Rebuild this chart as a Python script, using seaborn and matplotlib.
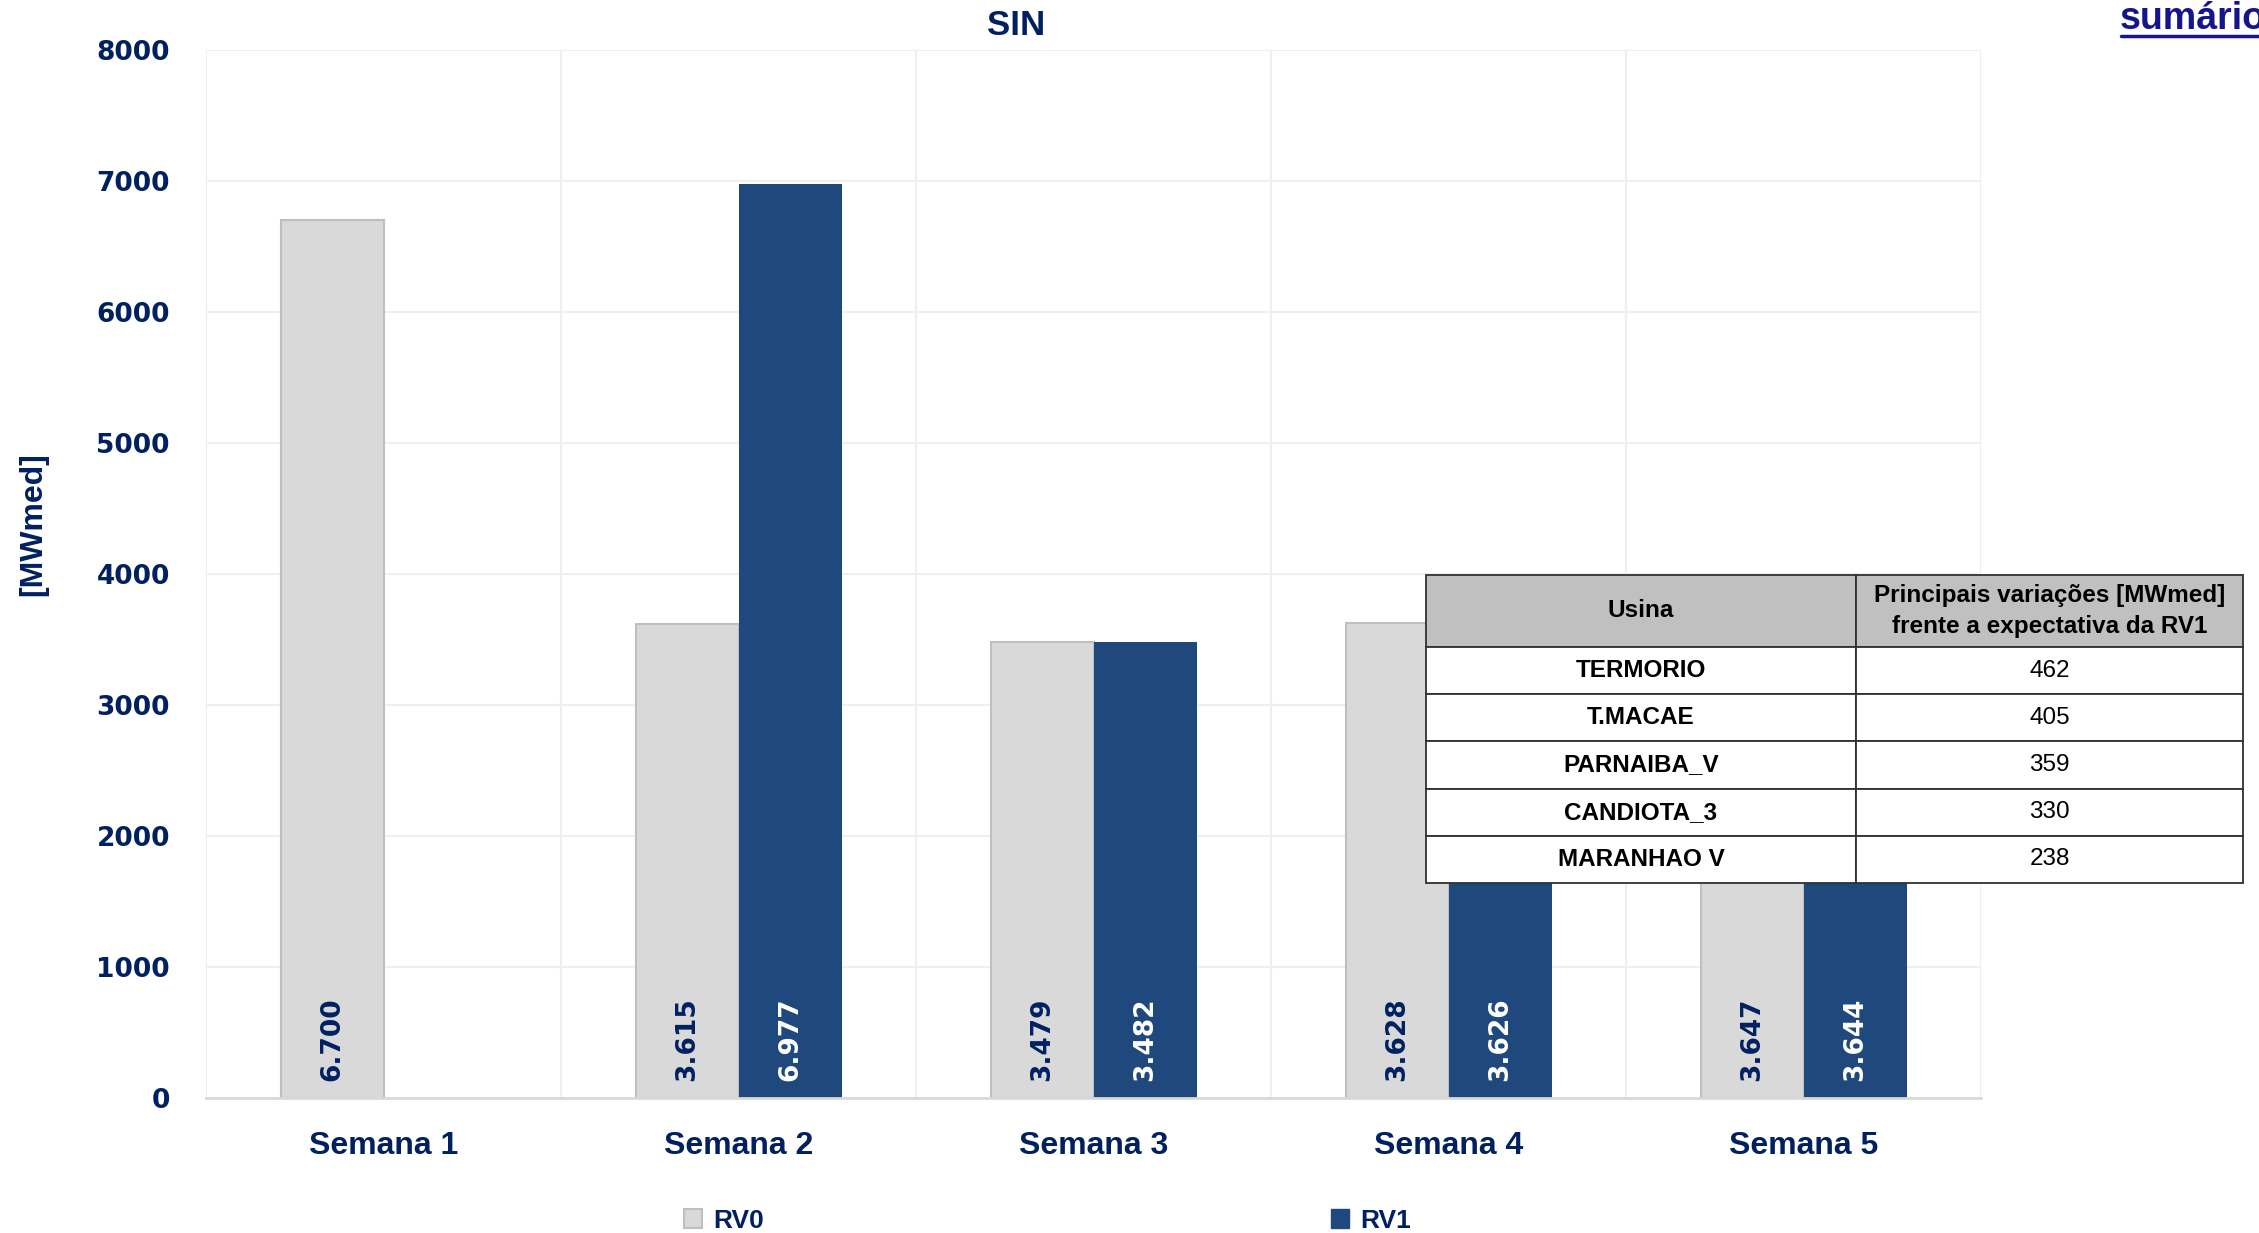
import numpy as np
import pandas as pd
import matplotlib
matplotlib.use("Agg")
import matplotlib.pyplot as plt
import seaborn as sns
from matplotlib.lines import Line2D
from matplotlib.patches import Patch

# dados do gráfico
semanas = ["Semana 1", "Semana 2", "Semana 3", "Semana 4", "Semana 5"]
rv0 = [6700, 3615, 3479, 3628, 3647]
rv1 = [np.nan, 6977, 3482, 3626, 3644]
yticks = [0, 1000, 2000, 3000, 4000, 5000, 6000, 7000, 8000]

# tabela de variações
usinas = ["TERMORIO", "T.MACAE", "PARNAIBA_V", "CANDIOTA_3", "MARANHAO V"]
variacoes = [462, 405, 359, 330, 238]
cab_tabela = ["Usina", "Principais variações [MWmed]\nfrente a expectativa da RV1"]

NAVY = "#002060"
GRAY = "#D9D9D9"
BLUE = "#1F497D"
NARROW = ["Liberation Sans", "DejaVu Sans"]

sns.set_theme(style="white")
plt.rcParams["font.family"] = ["DejaVu Sans"]

df = pd.DataFrame({
    "semana": semanas * 2,
    "serie": ["RV0"] * 5 + ["RV1"] * 5,
    "valor": rv0 + rv1,
})

fig = plt.figure(figsize=(22.59, 12.33), dpi=100)
ax = fig.add_axes([0.0912, 0.1095, 0.7858, 0.8499])

sns.barplot(data=df, x="semana", y="valor", hue="serie", order=semanas,
            hue_order=["RV0", "RV1"], palette=[GRAY, BLUE], width=0.58,
            saturation=1, errorbar=None, legend=False, ax=ax)

# borda cinza nas barras RV0
for p in ax.containers[0]:
    p.set_edgecolor("#BFBFBF")
    p.set_linewidth(1.5)
for p in ax.containers[1]:
    p.set_edgecolor(BLUE)
    p.set_linewidth(0)

# rótulos de valor na base das barras
for cont, cor in zip(ax.containers, [NAVY, "white"]):
    for p in cont:
        h = p.get_height()
        if np.isnan(h) or h == 0:
            continue
        txt = f"{h:,.0f}".replace(",", ".")
        ax.annotate(txt, (p.get_x() + p.get_width() / 2, 0),
                    xytext=(0, 12), textcoords="offset points",
                    rotation=90, ha="center", va="bottom",
                    fontsize=19, fontweight="bold", color=cor)

ax.set_ylim(0, 8000)
ax.set_xlim(-0.5, 4.5)
ax.set_yticks(yticks)
ax.set_yticklabels([str(v) for v in yticks], fontsize=19, fontweight="bold", color=NAVY)
ax.set_xticks(range(len(semanas)))
ax.set_xticklabels(semanas, fontsize=23, fontweight="bold", color=NAVY, family=NARROW)
ax.set_xticks(np.arange(-0.5, 5, 1), minor=True)
ax.tick_params(axis="x", which="both", length=0, pad=24)
ax.tick_params(axis="y", length=0, pad=26)
ax.set_xlabel("")
ax.set_ylabel("[MWmed]", fontsize=23, fontweight="bold", color=NAVY, family=NARROW)
ax.yaxis.set_label_coords(-0.089, 0.548)
ax.yaxis.grid(True, color="#EFEFEF", linewidth=1.5)
ax.xaxis.grid(True, which="minor", color="#EFEFEF", linewidth=1.5)
ax.xaxis.grid(False, which="major")
ax.set_axisbelow(True)
for s in ["top", "right", "left"]:
    ax.spines[s].set_visible(False)
ax.spines["bottom"].set_color("#D9D9D9")
ax.spines["bottom"].set_linewidth(2)

# título
fig.text(0.450, 0.993, "SIN", ha="center", va="top", fontsize=25,
         fontweight="bold", color=NAVY, family=NARROW)

# link "sumário"
fig.text(0.9385, 0.999, "sumário", ha="left", va="top", fontsize=27,
         fontweight="bold", color="#14148C", family=NARROW)
fig.add_artist(Line2D([0.939, 1.0], [0.9705, 0.9705], color="#14148C", linewidth=2.5))

# legenda
handles = [Patch(facecolor=GRAY, edgecolor="#BFBFBF", linewidth=1.5, label="RV0"),
           Patch(facecolor=BLUE, edgecolor=BLUE, label="RV1")]
leg = fig.legend(handles=handles, loc="center", bbox_to_anchor=(0.4636, 0.010),
                 ncol=2, frameon=False, handlelength=0.7, handleheight=0.7,
                 handletextpad=0.4, columnspacing=21.5,
                 prop={"family": NARROW, "weight": "bold", "size": 19})
for t in leg.get_texts():
    t.set_color(NAVY)

# tabela
tax = fig.add_axes([0.6313, 0.2839, 0.3617, 0.2498])
tax.axis("off")
linhas = [[u, str(v)] for u, v in zip(usinas, variacoes)]
tab = tax.table(cellText=linhas, colLabels=cab_tabela, cellLoc="center",
                colWidths=[0.526, 0.474], bbox=[0, 0, 1, 1])
tab.auto_set_font_size(False)
hh = 0.234
rh = (1 - hh) / len(usinas)
for (r, c), cell in tab.get_celld().items():
    cell.set_edgecolor("#303030")
    cell.set_linewidth(1.3)
    cell.set_height(hh if r == 0 else rh)
    txt = cell.get_text()
    txt.set_fontsize(17.5)
    txt.set_fontfamily(NARROW)
    txt.set_color("black")
    if r == 0:
        cell.set_facecolor("#C0C0C0")
        txt.set_fontweight("bold")
        txt.set_linespacing(1.4)
    else:
        cell.set_facecolor("white")
        if c == 0:
            txt.set_fontweight("bold")

fig.savefig("out.png", dpi=100)
